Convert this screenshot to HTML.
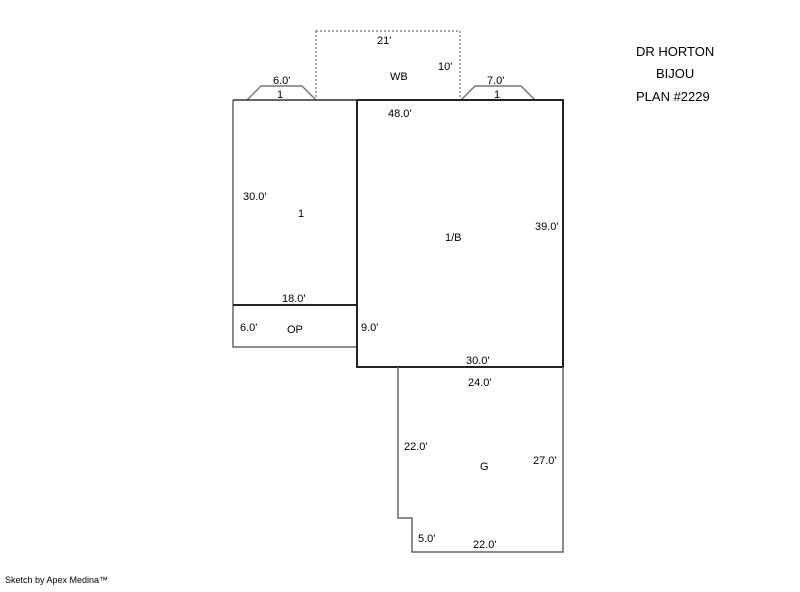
<!DOCTYPE html>
<html><head><style>
body{margin:0;background:#fff;}
svg text{font-family:"Liberation Sans",sans-serif;font-size:11px;fill:#000;}
</style></head><body>
<svg width="800" height="587" xmlns="http://www.w3.org/2000/svg">
<rect width="800" height="587" fill="#fff"/>
<rect x="316" y="31" width="144" height="69" fill="none" stroke="#888" stroke-width="1.5" stroke-dasharray="2,2"/>
<polyline points="247,100 261,86 302,86 316,100" fill="none" stroke="#777" stroke-width="1.5"/>
<polyline points="461,100 475,86 521,86 535,100" fill="none" stroke="#777" stroke-width="1.5"/>
<polyline points="233,100 233,347 357,347" fill="none" stroke="#666" stroke-width="1.5"/>
<line x1="233" y1="305" x2="357" y2="305" stroke="#222" stroke-width="2"/>
<line x1="233" y1="100" x2="357" y2="100" stroke="#333" stroke-width="1.5"/>
<polyline points="357,100 563,100 563,367 357,367 357,100" fill="none" stroke="#222" stroke-width="2"/>
<polyline points="398,367 398,518 412,518 412,552 563,552 563,367" fill="none" stroke="#666" stroke-width="1.5"/>
<text x="377" y="44">21'</text>
<text x="438" y="70">10'</text>
<text x="390" y="80">WB</text>
<text x="273" y="84">6.0'</text>
<text x="277" y="98">1</text>
<text x="487" y="84">7.0'</text>
<text x="494" y="98">1</text>
<text x="388" y="117">48.0'</text>
<text x="243" y="200">30.0'</text>
<text x="298" y="217">1</text>
<text x="445" y="241">1/B</text>
<text x="535" y="230">39.0'</text>
<text x="282" y="302">18.0'</text>
<text x="240" y="331">6.0'</text>
<text x="287" y="333">OP</text>
<text x="361" y="331">9.0'</text>
<text x="466" y="364">30.0'</text>
<text x="468" y="386">24.0'</text>
<text x="404" y="450">22.0'</text>
<text x="480" y="470">G</text>
<text x="533" y="464">27.0'</text>
<text x="418" y="542">5.0'</text>
<text x="473" y="548">22.0'</text>
<text x="636" y="56" style="font-size:13px">DR HORTON</text>
<text x="656" y="78" style="font-size:13px">BIJOU</text>
<text x="636" y="101" style="font-size:13px">PLAN #2229</text>
<text x="5" y="583" style="font-size:9px">Sketch by Apex Medina™</text>
</svg>
</body></html>
